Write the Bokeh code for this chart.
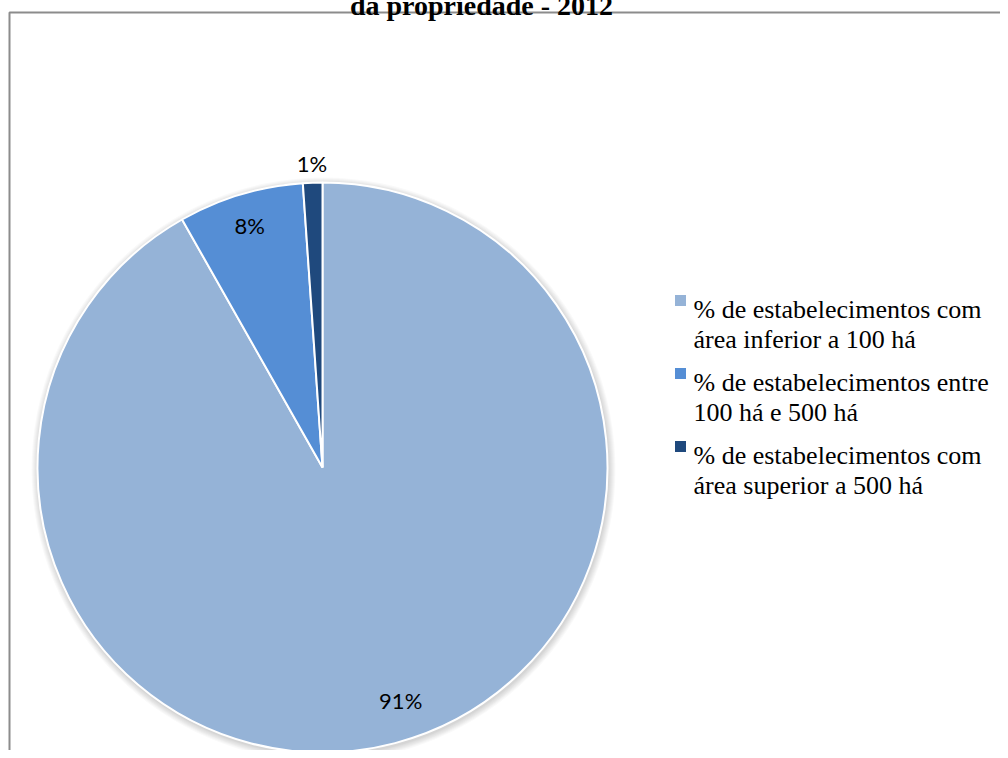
import math
from bokeh.plotting import figure
from bokeh.models import Range1d, ColumnDataSource
from bokeh.core.properties import value
from bokeh.embed import file_html
from bokeh.resources import INLINE

# ---- data ----
title_text = "da propriedade - 2012"
legend_line1 = ["% de estabelecimentos com",
                "% de estabelecimentos entre",
                "% de estabelecimentos com"]
legend_line2 = ["área inferior a 100 há",
                "100 há e 500 há",
                "área superior a 500 há"]
shares = [91.8, 7.1, 1.1]
slice_labels = ["91%", "8%", "1%"]
colors = ["#95B3D7", "#558ED5", "#1F497D"]

# ---- layout (page pixel coordinates; figure origin sits at page (-8, -8)) ----
W, H = 1008, 758
OFF = 8
def X(px):
    return px + OFF
def Y(py):
    return H - (py + OFF)

cx, cy, r = 322, 467, 285

p = figure(width=W, height=H, x_range=Range1d(0, W), y_range=Range1d(0, H),
           output_backend="svg", toolbar_location=None, min_border=0)
p.axis.visible = False
p.grid.visible = False
p.outline_line_color = None
p.margin = (-8, 0, 0, -8)

# chart border (left and top visible)
p.line(x=[X(9), X(9), X(1010)], y=[Y(760), Y(12), Y(12)],
       line_color="#8c8c8c", line_width=2)

# title (cut off at top)
p.text(x=[X(481)], y=[Y(5)], text=[title_text], text_font=value("Liberation Serif"),
       text_font_style="bold", text_font_size="28px", text_align="center",
       text_baseline="alphabetic", text_color="black")

# soft shadow
for k in range(7):
    p.circle(x=[X(cx + 1)], y=[Y(cy + 2)], radius=r + 7 - k, fill_color="#000000",
             fill_alpha=0.025, line_color=None)

# wedges
total = sum(shares)
starts, ends, mids = [], [], []
cum = 0.0
for s in shares:
    a_end = math.radians(90 - cum / total * 360)
    a_start = math.radians(90 - (cum + s) / total * 360)
    starts.append(a_start)
    ends.append(a_end)
    mids.append((a_start + a_end) / 2)
    cum += s

src = ColumnDataSource(dict(start=starts, end=ends, color=colors))
p.wedge(x=X(cx), y=Y(cy), radius=r, start_angle="start", end_angle="end",
        fill_color="color", line_color="white", line_width=2, source=src)

# slice labels
dist = [248, 253, 304]
nudge = [(15, 7), (0, 0), (0, 0)]
lx, ly = [], []
for m, d, (nx, ny) in zip(mids, dist, nudge):
    lx.append(X(cx) + d * math.cos(m) + nx)
    ly.append(Y(cy) + d * math.sin(m) + ny)
p.text(x=lx, y=ly, text=slice_labels, text_font=value("Lato"),
       text_font_size="22px", text_align="center", text_baseline="middle",
       text_color="black")

# legend
base0, step, gap = 309, 73, 30
sq_x = 680
tx = 693
for i in range(len(shares)):
    b = base0 + i * step
    p.rect(x=[X(sq_x)], y=[Y(b - 9)], width=11, height=11, fill_color=colors[i],
           line_color=None)
    p.text(x=[X(tx), X(tx)], y=[Y(b), Y(b + gap)],
           text=[legend_line1[i], legend_line2[i]],
           text_font=value("Liberation Serif"), text_font_size="26px",
           text_align="left", text_baseline="alphabetic", text_color="black")

open("out.html", "w").write(file_html(p, INLINE))
